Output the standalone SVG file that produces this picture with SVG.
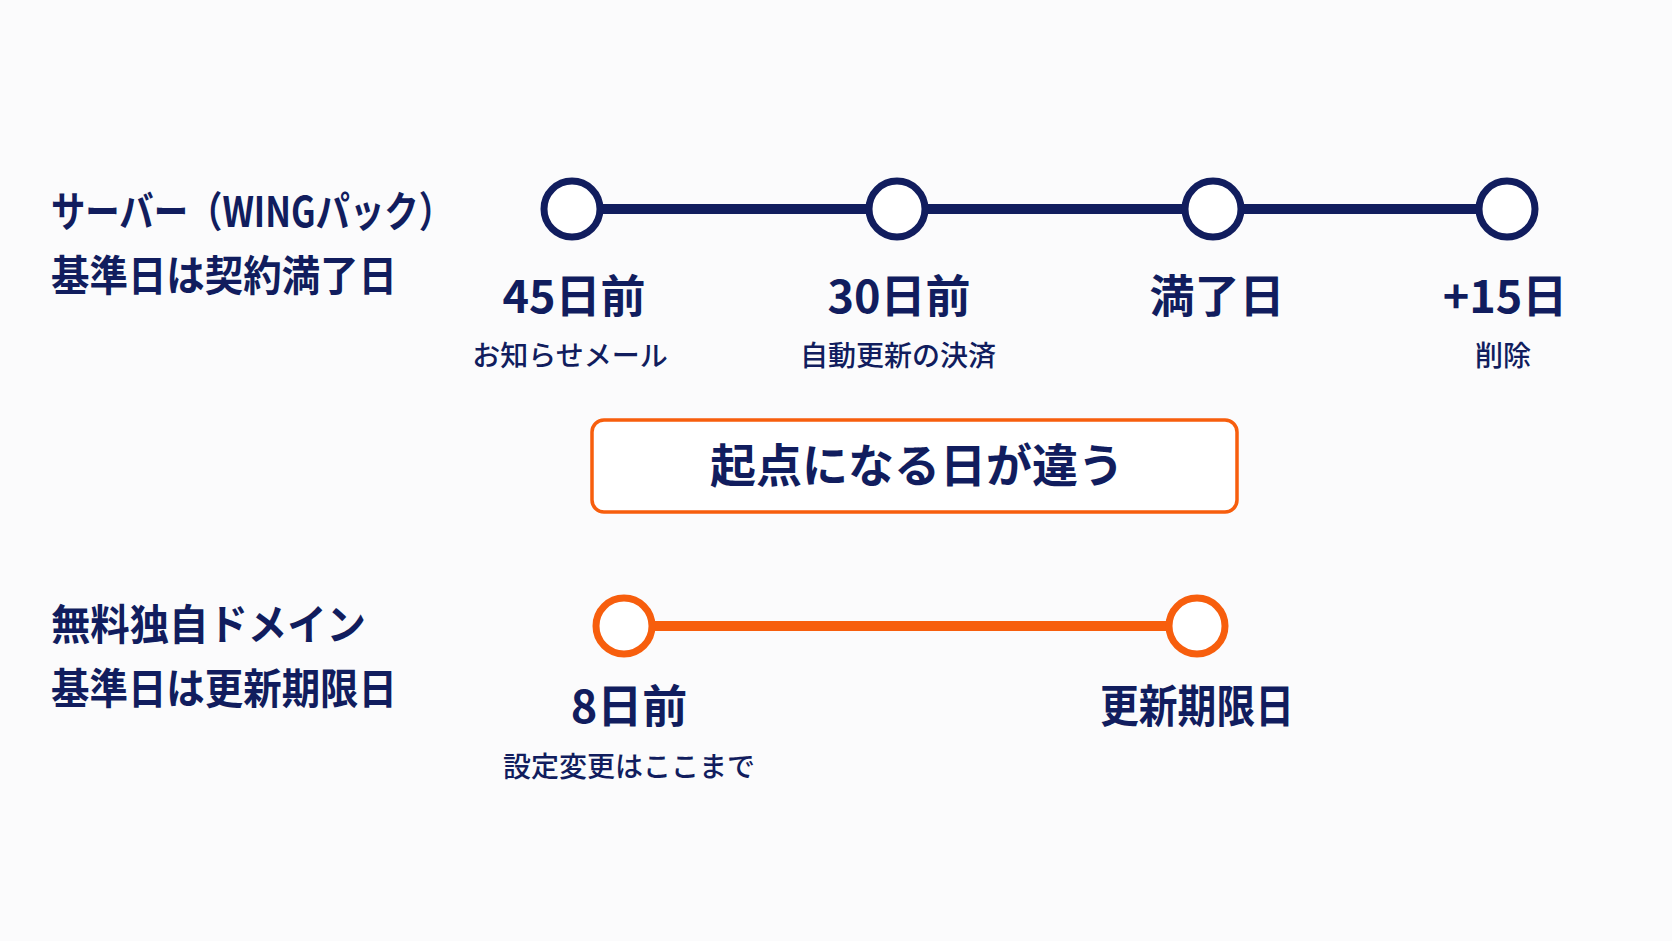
<svg xmlns="http://www.w3.org/2000/svg" width="1672" height="941" viewBox="0 0 1672 941">
<style>
text{font-family:"Noto Sans CJK JP","Noto Sans",sans-serif;fill:#111d5e;font-weight:700}
.h{font-size:42px;text-anchor:start}
.big{font-size:45px;text-anchor:middle}
.sub{font-size:28px;font-weight:500;text-anchor:middle}
.nc{fill:#fff;stroke:#111d5e;stroke-width:7}
.oc{fill:#fff;stroke:#f75e0d;stroke-width:7}
</style>
<rect width="1672" height="941" fill="#fbfbfc"/>
<g id="connectors">
<line x1="572" y1="209" x2="1507" y2="209" stroke="#111d5e" stroke-width="10"/>
<line x1="624" y1="626" x2="1197" y2="626" stroke="#f75e0d" stroke-width="10"/>
</g>
<g id="server-label"><text class="h" x="51" y="227" textLength="402" lengthAdjust="spacingAndGlyphs">サーバー（WINGパック）</text><text class="h" x="51" y="291" textLength="346" lengthAdjust="spacingAndGlyphs">基準日は契約満了日</text></g>
<g id="n45"><circle class="nc" cx="572" cy="209" r="28"/><text class="big" x="574" y="313">45日前</text><text class="sub" x="570" y="366">お知らせメール</text></g>
<g id="n30"><circle class="nc" cx="897" cy="209" r="28"/><text class="big" x="899" y="313">30日前</text><text class="sub" x="898" y="366">自動更新の決済</text></g>
<g id="nexp"><circle class="nc" cx="1213" cy="209" r="28"/><text class="big" x="1217" y="313">満了日</text></g>
<g id="n15"><circle class="nc" cx="1507" cy="209" r="28"/><text class="big" x="1505" y="313">+15日</text><text class="sub" x="1503" y="366">削除</text></g>
<g id="note"><rect x="592" y="420" width="645" height="92" rx="12" fill="#fff" stroke="#f75e0d" stroke-width="3.5"/><text class="big" x="917" y="482" style="font-size:46px">起点になる日が違う</text></g>
<g id="domain-label"><text class="h" x="51" y="640" textLength="315" lengthAdjust="spacingAndGlyphs">無料独自ドメイン</text><text class="h" x="51" y="704" textLength="346" lengthAdjust="spacingAndGlyphs">基準日は更新期限日</text></g>
<g id="n8"><circle class="oc" cx="624" cy="626" r="28"/><text class="big" x="629" y="723">8日前</text><text class="sub" x="629" y="777">設定変更はここまで</text></g>
<g id="nlimit"><circle class="oc" cx="1197" cy="626" r="28"/><text class="big" x="1197" y="723" textLength="194" lengthAdjust="spacingAndGlyphs">更新期限日</text></g>
</svg>
